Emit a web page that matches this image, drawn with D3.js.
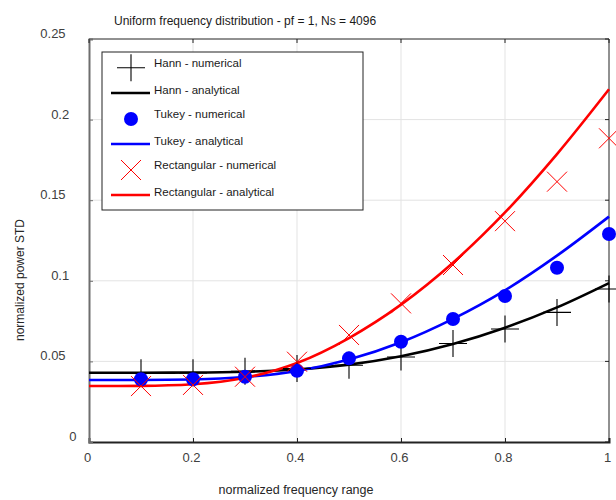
<!DOCTYPE html>
<html>
<head>
<meta charset="utf-8">
<script src="https://cdn.jsdelivr.net/npm/d3@7"></script>
<style>
  body { margin: 0; background: #fff; }
  text { font-family: "Liberation Sans", Arial, sans-serif; }
</style>
</head>
<body>
<svg id="chart"></svg>
<script>
const xNum = [0.1, 0.2, 0.3, 0.4, 0.5, 0.6, 0.7, 0.8, 0.9, 1.0]
const hannNum = [0.0429, 0.0429, 0.0439, 0.0456, 0.0476, 0.0527, 0.0611, 0.0701, 0.0804, 0.0949]
const tukeyNum = [0.0389, 0.0389, 0.0405, 0.0442, 0.0519, 0.0622, 0.0763, 0.0906, 0.1081, 0.1290]
const rectNum = [0.0347, 0.0354, 0.0405, 0.0498, 0.0664, 0.0860, 0.1098, 0.1370, 0.1615, 0.1884]

const xAn = [0, 0.1, 0.2, 0.3, 0.4, 0.5, 0.6, 0.7, 0.8, 0.9, 1.0]
const hannAn = [0.0430, 0.0430, 0.0431, 0.0436, 0.0450, 0.0480, 0.0532, 0.0608, 0.0709, 0.0835, 0.0986]
const tukeyAn = [0.0385, 0.0385, 0.0388, 0.0403, 0.0441, 0.0512, 0.0619, 0.0764, 0.0941, 0.1156, 0.1398]
const rectAn = [0.0347, 0.0348, 0.0358, 0.0398, 0.0490, 0.0645, 0.0852, 0.1112, 0.1424, 0.1786, 0.2188]

const xTicks = [0, 0.2, 0.4, 0.6, 0.8, 1]
const xTickLabels = ["0", "0.2", "0.4", "0.6", "0.8", "1"]
const yTicks = [0, 0.05, 0.1, 0.15, 0.2, 0.25]
const yTickLabels = ["0", "0.05", "0.1", "0.15", "0.2", "0.25"]

const legendLabels = ["Hann - numerical", "Hann - analytical", "Tukey - numerical",
  "Tukey - analytical", "Rectangular - numerical", "Rectangular - analytical"]

const titleText = "Uniform frequency distribution - pf = 1, Ns = 4096"
const xLabel = "normalized frequency range"
const yLabel = "normalized power STD"

const dimensions = { width: 616, height: 500 }
const margin = { top: 39, right: 7, bottom: 58, left: 89 }
const w = dimensions.width - margin.left - margin.right
const h = dimensions.height - margin.top - margin.bottom

const svg = d3.select("#chart")
  .attr("width", dimensions.width)
  .attr("height", dimensions.height)

const x = d3.scaleLinear().domain([0, 1]).range([0, w])
const y = d3.scaleLinear().domain([0, 0.25]).range([h, 0])

const g = svg.append("g").attr("transform", `translate(${margin.left},${margin.top})`)

// grid
g.append("g").selectAll("line").data(xTicks.slice(1, -1)).enter().append("line")
  .attr("x1", d => x(d)).attr("x2", d => x(d)).attr("y1", 0).attr("y2", h)
  .attr("stroke", "#e3e3e3").attr("stroke-width", 1)
g.append("g").selectAll("line").data(yTicks.slice(1, -1)).enter().append("line")
  .attr("y1", d => y(d)).attr("y2", d => y(d)).attr("x1", 0).attr("x2", w)
  .attr("stroke", "#e3e3e3").attr("stroke-width", 1)

// frame: top & right thin, left & bottom heavier
g.append("line").attr("x1", 0).attr("x2", w).attr("y1", 0).attr("y2", 0)
  .attr("stroke", "#222").attr("stroke-width", 1)
g.append("line").attr("x1", w).attr("x2", w).attr("y1", 0).attr("y2", h)
  .attr("stroke", "#222").attr("stroke-width", 1)

const xAxis = g.append("g").attr("transform", `translate(0,${h})`)
  .call(d3.axisBottom(x).tickValues(xTicks).tickSize(-4).tickFormat((d, i) => xTickLabels[i]))
xAxis.select(".domain").attr("stroke", "#222").attr("stroke-width", 2)
xAxis.selectAll(".tick line").attr("stroke", "#222")
xAxis.selectAll(".tick text")
  .attr("y", 20).attr("dy", 0).attr("dx", -2)
  .attr("font-size", 13).attr("fill", "#404040")
  .style("font-family", '"Liberation Sans", Arial, sans-serif')

const yAxis = g.append("g")
  .call(d3.axisLeft(y).tickValues(yTicks).tickSize(-4).tickFormat((d, i) => yTickLabels[i]))
yAxis.select(".domain").attr("stroke", "#6e6e6e").attr("stroke-width", 2)
yAxis.selectAll(".tick line").attr("stroke", "#6e6e6e")
yAxis.selectAll(".tick text")
  .attr("x", d => -(yTickLabels[yTicks.indexOf(d)].length * 3.6 + 9))
  .attr("dy", -1.5)
  .attr("font-size", 13).attr("fill", "#404040")
  .style("font-family", '"Liberation Sans", Arial, sans-serif')

// top & right inner ticks
g.append("g").selectAll("line").data(xTicks).enter().append("line")
  .attr("x1", d => x(d)).attr("x2", d => x(d)).attr("y1", 0).attr("y2", 4)
  .attr("stroke", "#222")
g.append("g").selectAll("line").data(yTicks).enter().append("line")
  .attr("y1", d => y(d)).attr("y2", d => y(d)).attr("x1", w - 4).attr("x2", w)
  .attr("stroke", "#222")

// analytical curves
const line = d3.line().x(d => x(d[0])).y(d => y(d[1])).curve(d3.curveMonotoneX)
const series = [
  { an: hannAn, num: hannNum, color: "#000000", marker: "plus" },
  { an: tukeyAn, num: tukeyNum, color: "#0000ff", marker: "dot" },
  { an: rectAn, num: rectNum, color: "#ff0000", marker: "cross" }
]

const plot = g.append("g")
series.forEach(s => {
  plot.append("path")
    .datum(xAn.map((v, i) => [v, s.an[i]]))
    .attr("d", line)
    .attr("fill", "none")
    .attr("stroke", s.color)
    .attr("stroke-width", 2.6)
})

function drawMarker(sel, type, color) {
  if (type === "plus") {
    sel.append("path").attr("d", "M-14,0H14M0,-13.5V13.5")
      .attr("stroke", color).attr("stroke-width", 1.1).attr("fill", "none")
  } else if (type === "dot") {
    sel.append("circle").attr("r", 7).attr("fill", color)
  } else {
    sel.append("path").attr("d", "M-10,-10L10,10M-10,10L10,-10")
      .attr("stroke", color).attr("stroke-width", 1).attr("fill", "none")
  }
}

series.forEach(s => {
  plot.selectAll(null).data(xNum.map((v, i) => [v, s.num[i]])).enter().append("g")
    .attr("transform", d => `translate(${x(d[0])},${y(d[1])})`)
    .each(function () { drawMarker(d3.select(this), s.marker, s.color) })
})

// legend
const legend = svg.append("g").attr("transform", "translate(102,52)")
legend.append("rect").attr("width", 261).attr("height", 158)
  .attr("fill", "#fff").attr("stroke", "#222").attr("stroke-width", 1)

const rowY = [15.7, 41, 67, 92, 118, 143]
legendLabels.forEach((lab, i) => {
  const s = series[Math.floor(i / 2)]
  const row = legend.append("g").attr("transform", `translate(0,${rowY[i]})`)
  if (i % 2 === 0) {
    drawMarker(row.append("g").attr("transform", "translate(29,0)"), s.marker, s.color)
  } else {
    row.append("line").attr("x1", 9).attr("x2", 48).attr("y1", 0).attr("y2", 0)
      .attr("stroke", s.color).attr("stroke-width", 2.6)
  }
  row.append("text").attr("x", 52).attr("y", i % 2 === 0 ? -1 : 1)
    .attr("font-size", 11.5).attr("fill", "#1a1a1a")
    .text(lab)
})

// titles
svg.append("text").attr("x", 114).attr("y", 24.5)
  .attr("font-size", 12).attr("fill", "#1a1a1a").text(titleText)

svg.append("text").attr("x", 296).attr("y", 494)
  .attr("text-anchor", "middle").attr("font-size", 12.5).attr("fill", "#262626").text(xLabel)

svg.append("text").attr("transform", "translate(24,280) rotate(-90)")
  .attr("text-anchor", "middle").attr("font-size", 12).attr("fill", "#262626").text(yLabel)
</script>
</body>
</html>
